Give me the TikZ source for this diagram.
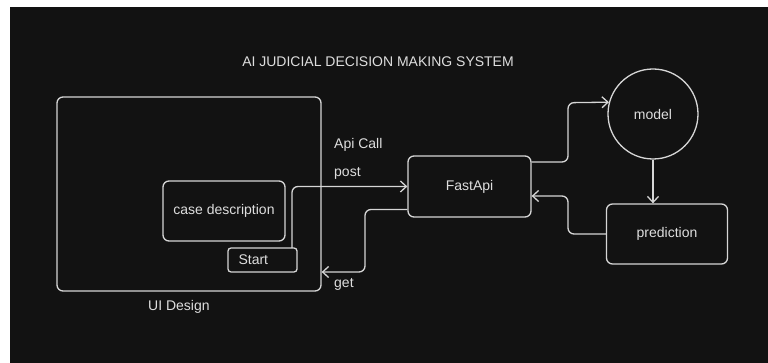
\documentclass[tikz,border=0pt]{standalone}
\usepackage{fontspec}
\setmainfont{Liberation Sans}
\usetikzlibrary{arrows.meta,calc}
\definecolor{bgdark}{HTML}{121212}
\definecolor{ink}{HTML}{D6D6D6}
\definecolor{txt}{HTML}{DEDEDE}
\tikzset{
  box/.style={draw=ink, line width=1.3pt, rounded corners=6pt, inner sep=0pt, text=txt, font=\fontsize{14}{16}\selectfont},
  lbl/.style={text=txt, inner sep=0pt, font=\fontsize{14}{16}\selectfont},
  conn/.style={draw=ink, line width=1.3pt, rounded corners=6pt, -{Straight Barb[length=6pt,width=11pt]}},
  plain/.style={draw=ink, line width=1.3pt, rounded corners=6pt},
}
\begin{document}
\begin{tikzpicture}[x=1pt,y=-1pt]
\useasboundingbox (0,0) rectangle (768,363);
\fill[white] (0,0) rectangle (768,363);
\fill[bgdark] (10,7) rectangle (768,363);

\node[lbl] (title) at (378,62) {AI JUDICIAL DECISION MAKING SYSTEM};

\node[box, minimum width=264pt, minimum height=194pt] (ui) at (189,194) {};
\node[lbl, anchor=west] (uilbl) at (148,307) {UI Design};
\node[box, minimum width=122pt, minimum height=60pt] (case) at (224,211) {case description};
\node[box, rounded corners=3pt, minimum width=69pt, minimum height=24pt] (start) at (262.5,260) {};
\node[lbl, anchor=west] (starttxt) at ([xshift=11pt]start.west) {Start};

\node[box, minimum width=123pt, minimum height=61pt] (fast) at (469.5,186.5) {FastApi};
\node[draw=ink, line width=1.3pt, circle, minimum size=90pt, inner sep=0pt, text=txt, font=\fontsize{14}{16}\selectfont] (model) at (653,114) {model};
\node[box, minimum width=121pt, minimum height=60pt] (pred) at (667,234) {prediction};

\node[lbl, anchor=west] (apicall) at (334,145) {Api Call};
\node[lbl, anchor=west] (post) at (334,173) {post};
\node[lbl, anchor=west] (get) at (334,284) {get};

\coordinate (c1) at (292,248);
\draw[conn] (c1) |- (fast.west);
\draw[conn] ([yshift=-23pt]fast.west) -- (365,209.5) -- (365,272) -- (ui.east |- 0,272);
\draw[conn] ([yshift=24.5pt]fast.east) -- (568,162) -- (568,102.7) -- (model.165.5);
\draw[conn, rounded corners=0pt] (model.south) -- (model.south |- pred.north);
\draw[conn] (pred.west) -- (568,234) -- (568,196) -- ([yshift=-9.5pt]fast.east);
\end{tikzpicture}
\end{document}
